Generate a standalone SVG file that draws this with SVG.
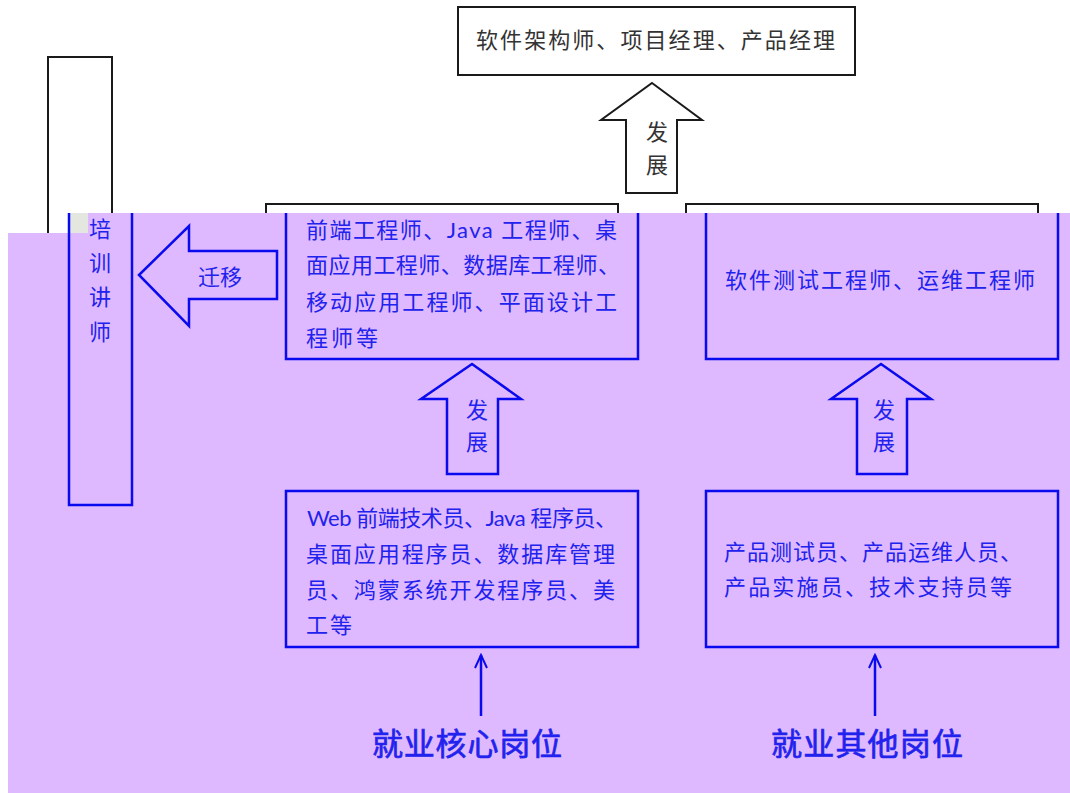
<svg xmlns="http://www.w3.org/2000/svg" width="1070" height="793" viewBox="0 0 1070 793">
<style>
.bk{fill:#ffffff;stroke:#1a1a1a;stroke-width:2}
.bl{fill:none;stroke:#0a0aee;stroke-width:2.5}
.blf{fill:#dfb9ff;stroke:#0a0aee;stroke-width:2.5}
.tk{font-family:"Noto Sans CJK SC","Liberation Sans",sans-serif;font-size:22px;fill:#333333}
.tb{font-family:Lato,"Noto Sans CJK SC",sans-serif;font-size:22px;fill:#2222ee}
.big{font-family:"Noto Sans CJK SC",sans-serif;font-size:31px;fill:#2222ee;stroke:#2222ee;stroke-width:0.7}
</style>
<defs>
<marker id="open" viewBox="0 0 16 14" refX="14" refY="7" markerWidth="16" markerHeight="14" markerUnits="userSpaceOnUse" orient="auto">
<path d="M1,1 L14,7 L1,13" fill="none" stroke="#0a0aee" stroke-width="2"/>
</marker>
</defs>
<rect width="1070" height="793" fill="#ffffff"/>

<!-- upper (uncovered) layer -->
<g id="top-role">
<rect class="bk" x="458" y="7" width="397" height="68"/>
<text class="tk" x="476" y="48" textLength="359" lengthAdjust="spacing">软件架构师、项目经理、产品经理</text>
</g>
<g id="upper-trainer">
<rect class="bk" x="48" y="57" width="64" height="200"/>
</g>
<g id="upper-core">
<rect class="bk" x="266" y="204" width="352" height="60"/>
</g>
<g id="upper-other">
<rect class="bk" x="686" y="204" width="352" height="60"/>
</g>
<g id="upper-develop-arrow">
<path class="bk" d="M652,83 L702,120 L677,120 L677,193 L626,193 L626,120 L601,120 Z"/>
<text class="tk" x="657" y="140" text-anchor="middle">发</text>
<text class="tk" x="657" y="173" text-anchor="middle">展</text>
</g>

<!-- purple overlay -->
<path d="M8,233 H68 V213 H1070 V793 H8 Z" fill="#dfb9ff"/>
<rect x="68" y="213" width="20" height="20" fill="#e4e6e0"/>

<g id="trainer">
<path class="bl" d="M69,213 V505 H132 V213"/>
<text class="tb" x="100" y="237" text-anchor="middle">培</text>
<text class="tb" x="100" y="271" text-anchor="middle">训</text>
<text class="tb" x="100" y="305" text-anchor="middle">讲</text>
<text class="tb" x="100" y="340" text-anchor="middle">师</text>
</g>

<g id="core-engineer">
<path class="bl" d="M286,213 V359 H638 V213"/>
<text class="tb" x="306" y="238" textLength="311" lengthAdjust="spacing">前端工程师、Java 工程师、桌</text>
<text class="tb" x="306" y="273" textLength="314" lengthAdjust="spacing">面应用工程师、数据库工程师、</text>
<text class="tb" x="306" y="310" textLength="311" lengthAdjust="spacing">移动应用工程师、平面设计工</text>
<text class="tb" x="306" y="346" textLength="72" lengthAdjust="spacing">程师等</text>
</g>

<g id="other-engineer">
<path class="bl" d="M706,213 V359 H1058 V213"/>
<text class="tb" x="725" y="288" textLength="310" lengthAdjust="spacing">软件测试工程师、运维工程师</text>
</g>

<g id="core-entry">
<rect class="bl" x="286" y="491" width="352" height="156"/>
<text class="tb" x="307" y="526" textLength="310" lengthAdjust="spacing">Web 前端技术员、Java 程序员、</text>
<text class="tb" x="306" y="562" textLength="309" lengthAdjust="spacing">桌面应用程序员、数据库管理</text>
<text class="tb" x="306" y="598" textLength="309" lengthAdjust="spacing">员、鸿蒙系统开发程序员、美</text>
<text class="tb" x="306" y="633" textLength="46" lengthAdjust="spacing">工等</text>
</g>

<g id="other-entry">
<rect class="bl" x="706" y="491" width="352" height="156"/>
<text class="tb" x="724" y="560" textLength="298" lengthAdjust="spacing">产品测试员、产品运维人员、</text>
<text class="tb" x="724" y="595" textLength="288" lengthAdjust="spacing">产品实施员、技术支持员等</text>
</g>

<g id="label-core">
<text class="big" x="467" y="755" text-anchor="middle" textLength="190" lengthAdjust="spacing">就业核心岗位</text>
</g>
<g id="label-other">
<text class="big" x="867" y="755" text-anchor="middle" textLength="192" lengthAdjust="spacing">就业其他岗位</text>
</g>

<g id="connectors">
<g id="migrate-arrow">
<path class="blf" d="M139,275 L189,226 L189,251 L277,251 L277,299 L189,299 L189,326 Z"/>
<text class="tb" x="220" y="285" text-anchor="middle">迁移</text>
</g>
<g id="develop-arrow-core">
<path class="blf" d="M472,364 L521,399 L498,399 L498,474 L447,474 L447,399 L421,399 Z"/>
<text class="tb" x="477" y="418" text-anchor="middle">发</text>
<text class="tb" x="477" y="450" text-anchor="middle">展</text>
</g>
<g id="develop-arrow-other">
<path class="blf" d="M881,364 L931,399 L907,399 L907,474 L857,474 L857,399 L831,399 Z"/>
<text class="tb" x="884" y="418" text-anchor="middle">发</text>
<text class="tb" x="884" y="450" text-anchor="middle">展</text>
</g>
<line class="bl" x1="481" y1="716" x2="481" y2="655" stroke-width="2" marker-end="url(#open)"/>
<line class="bl" x1="875" y1="716" x2="875" y2="655" stroke-width="2" marker-end="url(#open)"/>
</g>
</svg>
